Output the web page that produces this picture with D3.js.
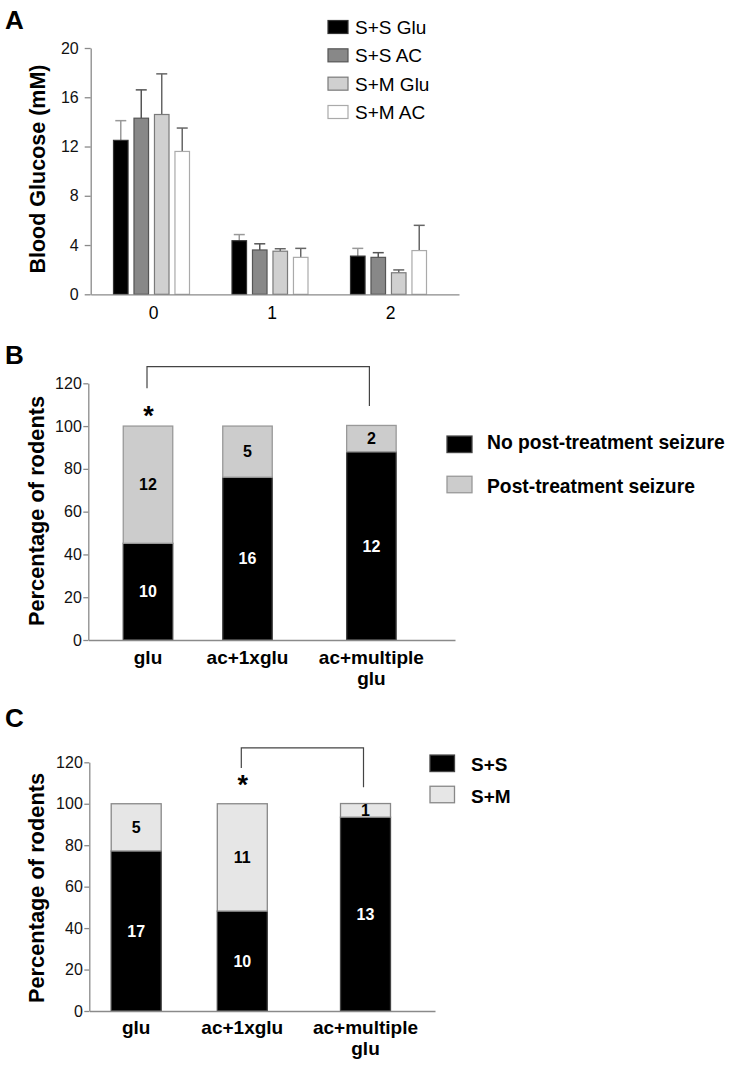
<!DOCTYPE html>
<html><head><meta charset="utf-8">
<script src="https://cdn.jsdelivr.net/npm/d3@7"></script>
<style>body{margin:0;background:#fff} svg{display:block} text{font-family:"Liberation Sans", Arial, sans-serif}</style>
</head><body><svg id="c" width="730" height="1067"></svg>
<script>
// ---------- Panel A data ----------
const daysA = ["0", "1", "2"];
const seriesA = ["S+S Glu", "S+S AC", "S+M Glu", "S+M AC"];
const ssGlu = [12.5, 4.35, 3.1];
const ssAC = [14.3, 3.6, 3.0];
const smGlu = [14.6, 3.5, 1.75];
const smAC = [11.6, 3.0, 3.55];
const ssGluErr = [1.6, 0.5, 0.63];
const ssACErr = [2.3, 0.5, 0.38];
const smGluErr = [3.3, 0.2, 0.23];
const smACErr = [1.9, 0.73, 2.05];
const ticksA = [0, 4, 8, 12, 16, 20];

// ---------- Panel B data ----------
const catsB = ["glu", "ac+1xglu", "ac+multiple glu"];
const seriesB = ["No post-treatment seizure", "Post-treatment seizure"];
const noSeizurePct = [45.2, 76.1, 88.0];
const seizurePct = [54.8, 23.9, 12.3];
const noSeizureN = [10, 16, 12];
const seizureN = [12, 5, 2];

// ---------- Panel C data ----------
const catsC = ["glu", "ac+1xglu", "ac+multiple glu"];
const seriesC = ["S+S", "S+M"];
const ssPct = [77.2, 48.2, 93.5];
const smPct = [22.8, 51.8, 6.6];
const ssN = [17, 10, 13];
const smN = [5, 11, 1];

const ticksBC = [0, 20, 40, 60, 80, 100, 120];

const svg = d3.select("#c");
const AXIS = "#8a8a8a";

function styleAxis(g) {
  g.selectAll(".domain").attr("stroke", AXIS).attr("stroke-width", 1.3);
  g.selectAll(".tick line").attr("stroke", AXIS).attr("stroke-width", 1.3);
  g.selectAll(".tick text").attr("fill", "#111").style("font-family", '"Liberation Sans", Arial, sans-serif');
}

function panelLabel(t, x, y) {
  svg.append("text").attr("x", x).attr("y", y).text(t)
    .attr("font-size", 26).attr("font-weight", "bold").attr("fill", "#000");
}

function yLabel(t, x, yc, size) {
  svg.append("text").attr("transform", `translate(${x},${yc}) rotate(-90)`)
    .attr("text-anchor", "middle").attr("dy", "0.35em")
    .attr("font-size", size).attr("font-weight", "bold").text(t);
}

// =============== PANEL A ===============
(function () {
  const left = 90.7, right = 459;
  const y = d3.scaleLinear().domain([0, 20]).range([294.3, 48]);
  const xg = d3.scalePoint().domain(daysA).range([151.5, 388.5]);
  const xs = d3.scaleBand().domain(seriesA).range([-38, 38]).paddingInner(0.29);
  const vals = [ssGlu, ssAC, smGlu, smAC];
  const errs = [ssGluErr, ssACErr, smGluErr, smACErr];
  const fills = ["#000000", "#888888", "#d0d0d0", "#ffffff"];
  const strokes = ["#333333", "#555555", "#7a7a7a", "#aaaaaa"];
  const errCol = ["#999999", "#555555", "#666666", "#666666"];

  panelLabel("A", 5, 28.5);

  const data = [];
  seriesA.forEach((s, si) => daysA.forEach((d, di) => data.push({ s, si, d, v: vals[si][di], e: errs[si][di] })));

  const g = svg.append("g");
  const eg = g.selectAll(".err").data(data).enter().append("g")
    .attr("stroke", d => errCol[d.si]).attr("stroke-width", 1.5).attr("fill", "none");
  eg.append("line")
    .attr("x1", d => xg(d.d) + xs(d.s) + xs.bandwidth() / 2)
    .attr("x2", d => xg(d.d) + xs(d.s) + xs.bandwidth() / 2)
    .attr("y1", d => y(d.v)).attr("y2", d => y(d.v + d.e));
  eg.append("line")
    .attr("x1", d => xg(d.d) + xs(d.s) + xs.bandwidth() / 2 - 5.5)
    .attr("x2", d => xg(d.d) + xs(d.s) + xs.bandwidth() / 2 + 5.5)
    .attr("y1", d => y(d.v + d.e)).attr("y2", d => y(d.v + d.e));

  g.selectAll(".bar").data(data).enter().append("rect")
    .attr("x", d => xg(d.d) + xs(d.s))
    .attr("width", xs.bandwidth())
    .attr("y", d => y(d.v))
    .attr("height", d => y(0) - y(d.v))
    .attr("fill", d => fills[d.si]).attr("stroke", d => strokes[d.si]).attr("stroke-width", 1.2);

  const ya = svg.append("g").attr("transform", `translate(${left},0)`)
    .call(d3.axisLeft(y).tickValues(ticksA).tickSize(6).tickSizeOuter(0).tickPadding(6));
  ya.selectAll(".tick text").attr("font-size", 16);
  styleAxis(ya);

  const xl = d3.scaleLinear().range([left, right]);
  const xa = svg.append("g").attr("transform", `translate(0,${y(0)})`)
    .call(d3.axisBottom(xl).ticks(0).tickSizeOuter(0));
  styleAxis(xa);

  svg.selectAll(".xlabA").data(daysA).enter().append("text")
    .attr("x", d => xg(d) + 2).attr("y", 319).attr("text-anchor", "middle")
    .attr("font-size", 17.5).text(d => d);

  yLabel("Blood Glucose (mM)", 37, 169, 21.5);

  const ly = d3.scalePoint().domain(seriesA).range([27, 112]);
  const lg = svg.selectAll(".legA").data(seriesA).enter().append("g");
  lg.append("rect").attr("x", 328).attr("y", d => ly(d) - 6.5).attr("width", 20).attr("height", 13)
    .attr("fill", (d, i) => fills[i]).attr("stroke", (d, i) => strokes[i]).attr("stroke-width", 1.2);
  lg.append("text").attr("x", 355).attr("y", d => ly(d)).attr("dy", "0.36em")
    .attr("font-size", 19).text(d => d);
})();

// =============== Stacked panels ===============
function stackedPanel(o) {
  const y = d3.scaleLinear().domain([0, 120]).range([o.y0, o.y120]);
  const xp = d3.scalePoint().domain(o.cats).range(o.xr);
  const xc = (c, i) => xp(c) + (i >= 2 ? o.gap : 0);
  const bw = o.bw;

  panelLabel(o.letter, 5, o.letterY);

  const rows = o.cats.map((c, i) => ({ c, i, lo: o.lower[i], hi: o.upper[i], nLo: o.nLower[i], nHi: o.nUpper[i] }));
  const stack = d3.stack().keys(["lo", "hi"]);
  const layers = stack(rows);

  const cols = [o.lowFill, o.highFill], strokes = [o.lowStroke, o.highStroke];
  layers.forEach((layer, li) => {
    svg.append("g").selectAll("rect").data(layer).enter().append("rect")
      .attr("x", d => xc(d.data.c, d.data.i) - bw / 2)
      .attr("width", bw)
      .attr("y", d => y(d[1]))
      .attr("height", d => y(d[0]) - y(d[1]))
      .attr("fill", cols[li]).attr("stroke", strokes[li]).attr("stroke-width", 1.3);
    svg.append("g").selectAll("text").data(layer).enter().append("text")
      .attr("x", d => xc(d.data.c, d.data.i))
      .attr("y", d => (y(d[0]) + y(d[1])) / 2)
      .attr("dy", "0.36em").attr("text-anchor", "middle")
      .attr("font-size", 16).attr("font-weight", "bold")
      .attr("fill", li === 0 ? "#fff" : "#000")
      .text(d => li === 0 ? d.data.nLo : d.data.nHi);
  });

  const ya = svg.append("g").attr("transform", `translate(${o.left},0)`)
    .call(d3.axisLeft(y).tickValues(ticksBC).tickSize(5).tickSizeOuter(0).tickPadding(1.5));
  ya.selectAll(".tick text").attr("font-size", 16);
  styleAxis(ya);

  const xl = d3.scaleLinear().range([o.left, o.right]);
  const xa = svg.append("g").attr("transform", `translate(0,${y(0)})`)
    .call(d3.axisBottom(xl).ticks(0).tickSizeOuter(0));
  styleAxis(xa);

  const xt = svg.append("g").selectAll("text").data(o.cats).enter().append("text")
    .attr("text-anchor", "middle").attr("font-size", 19).attr("font-weight", "bold");
  xt.each(function (c, i) {
    const parts = c.split(" ");
    d3.select(this).selectAll("tspan").data(parts).enter().append("tspan")
      .attr("x", xc(c, i)).attr("y", (p, k) => o.labY + k * o.lineH).text(p => p);
  });

  yLabel("Percentage of rodents", 36.7, o.yLabC, 21.8);

  const s = o.sig;
  const xa1 = xc(o.cats[s.from], s.from) - 1, xa2 = xc(o.cats[s.to], s.to) - 2;
  svg.append("path")
    .attr("d", `M${xa1},${y(s.leftEnd)}V${y(s.top)}H${xa2}V${y(s.rightEnd)}`)
    .attr("fill", "none").attr("stroke", "#444").attr("stroke-width", 1.2);
  svg.append("text").attr("x", xa1 + 1.5).attr("y", y(s.star) + 14.5)
    .attr("text-anchor", "middle").attr("font-size", 27).attr("font-weight", "bold").text("*");

  const lg = svg.append("g").selectAll("g").data(o.series).enter().append("g");
  lg.append("rect").attr("x", o.legX).attr("y", (d, i) => o.legY[i] - o.swH / 2)
    .attr("width", o.swW).attr("height", o.swH)
    .attr("fill", (d, i) => cols[i]).attr("stroke", (d, i) => strokes[i]).attr("stroke-width", 1.3);
  lg.append("text").attr("x", o.legTX).attr("y", (d, i) => o.legTY[i]).attr("dy", "0.36em")
    .attr("font-size", o.legFS).attr("font-weight", "bold").text(d => d);
}

stackedPanel({
  letter: "B", letterY: 363.5,
  cats: catsB, series: seriesB,
  lower: noSeizurePct, upper: seizurePct, nLower: noSeizureN, nUpper: seizureN,
  y0: 640, y120: 383.3, left: 88.3, right: 455,
  xr: [148, 347], gap: 24.4, bw: 49.5,
  lowFill: "#000", lowStroke: "#444", highFill: "#cccccc", highStroke: "#999",
  labY: 664, lineH: 20.5, yLabC: 511,
  sig: { from: 0, to: 2, top: 127.8, leftEnd: 117.7, rightEnd: 109.4, star: 107.5 },
  legX: 447, swW: 25, swH: 16.5, legY: [444.3, 484.5], legTX: 487, legTY: [441.7, 485.7], legFS: 19.3
});

stackedPanel({
  letter: "C", letterY: 727,
  cats: catsC, series: seriesC,
  lower: ssPct, upper: smPct, nLower: ssN, nUpper: smN,
  y0: 1011, y120: 762.3, left: 89.3, right: 435,
  xr: [136.2, 348.4], gap: 17.1, bw: 50,
  lowFill: "#000", lowStroke: "#444", highFill: "#e6e6e6", highStroke: "#888",
  labY: 1034, lineH: 20.5, yLabC: 888,
  sig: { from: 1, to: 2, top: 127, leftEnd: 117.2, rightEnd: 108, star: 111.5 },
  legX: 430, swW: 24.5, swH: 16.5, legY: [763.3, 794.5], legTX: 471, legTY: [764.3, 795.7], legFS: 19
});
</script></body></html>
